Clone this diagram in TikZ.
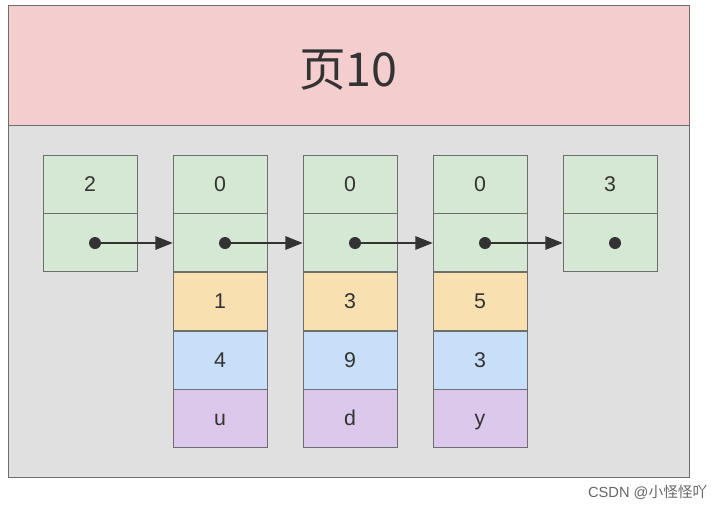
\documentclass[tikz,border=0pt]{standalone}
\usepackage{fontspec}
\setmainfont{Liberation Sans}
\newfontfamily\cjk{Noto Sans CJK SC}
\usetikzlibrary{arrows.meta}
\definecolor{gfill}{HTML}{D5E8D4}
\definecolor{yfill}{HTML}{F9E0B0}
\definecolor{bfill}{HTML}{C8DFF9}
\definecolor{pfill}{HTML}{DCC8EA}
\definecolor{pink}{HTML}{F4CECE}
\definecolor{bg}{HTML}{E0E0E0}
\definecolor{bd}{HTML}{6E6E6E}
\tikzset{cell/.style={draw=bd,minimum width=70.5pt,minimum height=43.5pt,inner sep=0pt,text height=11pt,text depth=0pt,font=\fontsize{16}{16}\selectfont,text=black!80},
dotn/.style={circle,fill=black!80,inner sep=0pt,minimum size=9pt},
lnk/.style={-{Triangle[length=13pt,width=10pt]},line width=1.3pt,black!80}}
\begin{document}
\begin{tikzpicture}[x=0.75pt,y=-0.75pt]
\useasboundingbox (0,0) rectangle (723,511);
\fill[white] (0,0) rectangle (723,511);
\draw[bd,fill=bg] (8,125) rectangle (689,477);
\draw[bd,fill=pink] (8,5) rectangle (689,125);
\node[text=black!80] (title) at (348.5,70) {\cjk\fontsize{35}{35}\selectfont 页10};
\foreach \n/\x/\t in {a/90/2,b/220/0,c/350/0,d/480/0,e/610/3}{
  \node[cell,fill=gfill] (\n1) at (\x,184) {\t};
  \node[cell,fill=gfill] (\n2) at (\x,242) {};
  \node[dotn] (\n d) at (\x+5,243) {};
}
\foreach \n/\x/\p/\q/\r in {b/220/1/4/u,c/350/3/9/d,d/480/5/3/y}{
  \node[cell,fill=yfill] (\n3) at (\x,301) {\p};
  \node[cell,fill=bfill] (\n4) at (\x,360) {\q};
  \node[cell,fill=pfill] (\n5) at (\x,418) {\r};
}
\draw[lnk] (ad.center) -- (ad.center -| b2.west);
\draw[lnk] (bd.center) -- (bd.center -| c2.west);
\draw[lnk] (cd.center) -- (cd.center -| d2.west);
\draw[lnk] (dd.center) -- (dd.center -| e2.west);
\node[anchor=east,text=black!60] (wm) at (712,492) {\fontsize{11}{11}\selectfont CSDN @{\cjk 小怪怪吖}};
\end{tikzpicture}
\end{document}
